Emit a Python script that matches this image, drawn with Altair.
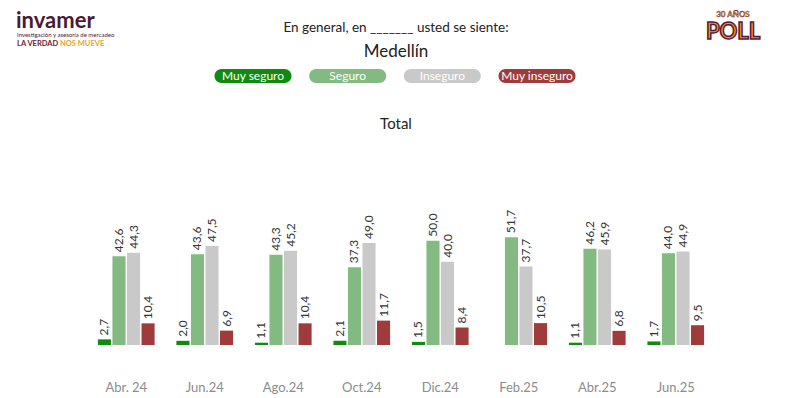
import altair as alt
import pandas as pd

periods = ["Abr. 24", "Jun.24", "Ago.24", "Oct.24", "Dic.24", "Feb.25", "Abr.25", "Jun.25"]
series = ["Muy seguro", "Seguro", "Inseguro", "Muy inseguro"]
colors = ["#118a11", "#82ba82", "#c9c9c9", "#a03b3b"]
muy_seguro = [2.7, 2.0, 1.1, 2.1, 1.5, None, 1.1, 1.7]
seguro = [42.6, 43.6, 43.3, 37.3, 50.0, 51.7, 46.2, 44.0]
inseguro = [44.3, 47.5, 45.2, 49.0, 40.0, 37.7, 45.9, 44.9]
muy_inseguro = [10.4, 6.9, 10.4, 11.7, 8.4, 10.5, 6.8, 9.5]

FONT = "Lato"

rows = []
for s, vals in zip(series, [muy_seguro, seguro, inseguro, muy_inseguro]):
    for p, v in zip(periods, vals):
        if v is not None:
            rows.append({"periodo": p, "serie": s, "valor": v})
df = pd.DataFrame(rows)

base = alt.Chart(df).encode(
    x=alt.X("periodo:N", sort=periods, title=None,
            scale=alt.Scale(domain=periods, paddingInner=0, paddingOuter=0),
            axis=alt.Axis(domain=False, ticks=False, tickSize=0, labelPadding=36,
                          labelAngle=0, labelFont=FONT, labelFontSize=13,
                          labelColor="#8c8c8c", grid=False)),
    xOffset=alt.XOffset("serie:N", sort=series,
                        scale=alt.Scale(domain=series, paddingInner=0.1, paddingOuter=0.75)),
    y=alt.Y("valor:Q", scale=alt.Scale(domain=[0, 60]), axis=None),
)

bars = base.mark_bar().encode(
    color=alt.Color("serie:N", scale=alt.Scale(domain=series, range=colors), legend=None)
)

labels = base.transform_calculate(
    lab="replace(format(datum.valor, '.1f'), '.', ',')"
).mark_text(angle=270, align="left", baseline="middle", dx=4,
            font=FONT, fontSize=12, color="#333333").encode(text="lab:N")

# legend pills
leg_df = pd.DataFrame({"serie": series})
leg_x = alt.X("serie:N", sort=series, axis=None,
              scale=alt.Scale(type="point", domain=series, range=[166, 450], padding=0))
legend_bg = alt.Chart(leg_df).mark_bar(size=77, cornerRadius=7).encode(
    x=leg_x,
    y=alt.value(-151), y2=alt.value(-137),
    color=alt.Color("serie:N", scale=alt.Scale(domain=series, range=colors), legend=None),
)
legend_txt = alt.Chart(leg_df).mark_text(font=FONT, fontSize=12, color="white",
                                         baseline="middle").encode(
    x=leg_x,
    y=alt.value(-144),
    text="serie:N",
)
legend = alt.layer(legend_bg, legend_txt)

def txt(s, x, y, size, color="#222222", weight="normal", align="center", **kw):
    return alt.Chart(pd.DataFrame({"t": [s]})).mark_text(
        font=FONT, fontSize=size, color=color, fontWeight=weight, align=align,
        baseline="alphabetic", **kw
    ).encode(x=alt.value(x), y=alt.value(y), text="t:N")

header = alt.layer(
    txt("En general, en _______ usted se siente:", 309, -188, 13.5),
    txt("Medellín", 309, -163, 17),
    txt("Total", 309, -91, 15),
    txt("invamer", -71, -192, 22, color="#4b1a35", weight="bold", align="left"),
    txt("Investigación y asesoría de mercadeo", -70, -183, 6, color="#4b1a35", align="left"),
    txt("LA VERDAD", -70, -174, 7.5, color="#7a1930", weight="bold", align="left"),
    txt("NOS MUEVE", -27, -174, 7.5, color="#f0a030", weight="bold", align="left"),
    txt("30 AÑOS", 646, -203, 8, color="#f39a2b", weight="bold",
        stroke="#5a1a3a", strokeWidth=0.4),
    txt("POLL", 646, -181, 22, color="#f7961d", weight="bold",
        stroke="#5a1a3a", strokeWidth=1.5),
)

main = alt.layer(bars, labels)

chart = alt.layer(main, legend, header).resolve_scale(
    x="independent", color="independent"
).properties(
    width=628, height=125,
    autosize=alt.AutoSizeParams(type="none"),
    padding={"left": 79, "top": 212, "right": 70, "bottom": 52},
).configure(background="white").configure_view(stroke=None, strokeWidth=0)

chart.save("out.html", embed_options={"renderer": "svg", "actions": False})
